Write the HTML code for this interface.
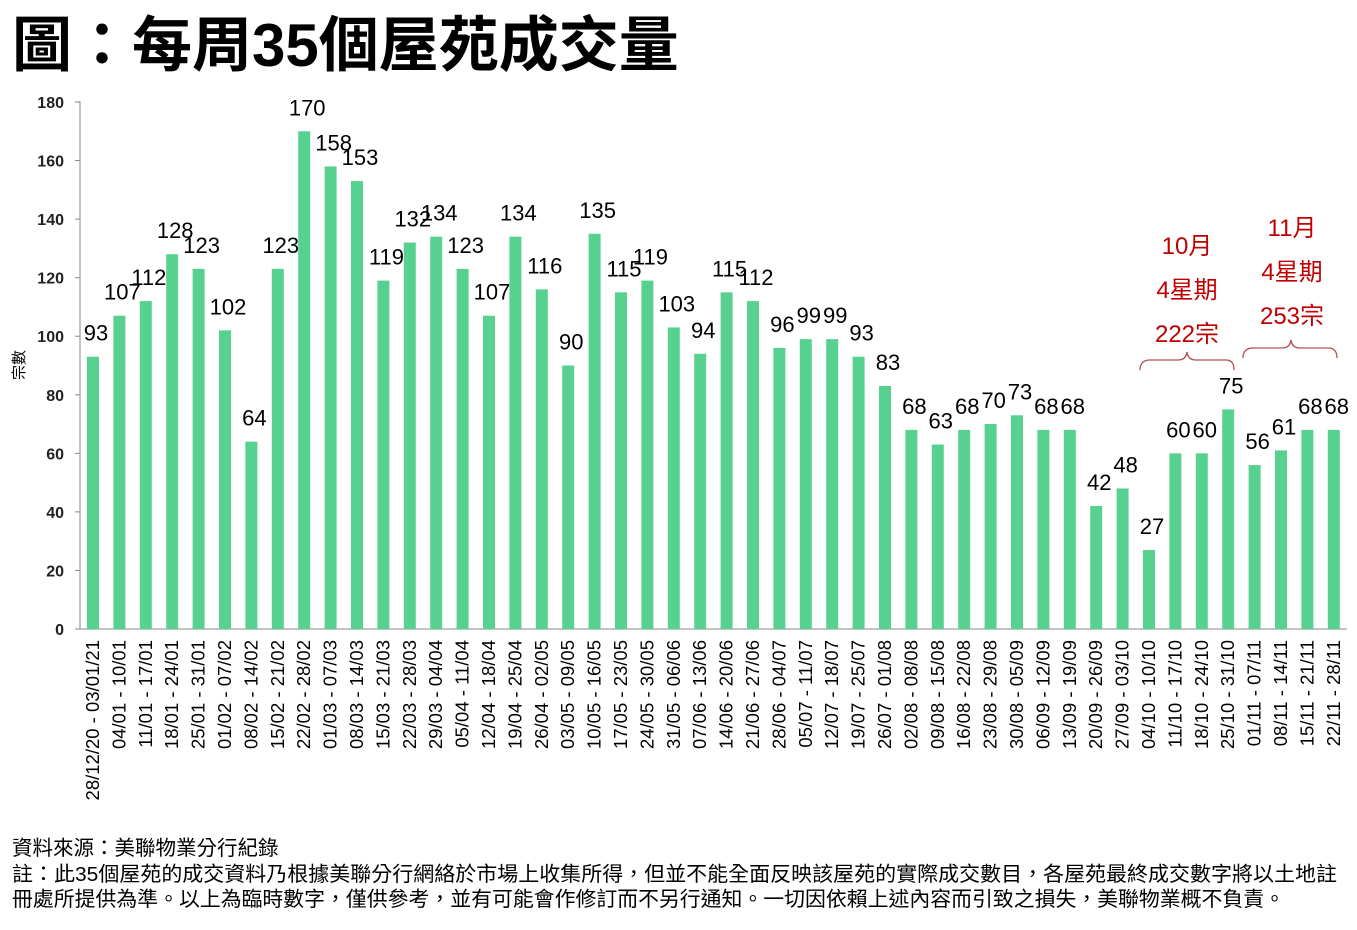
<!DOCTYPE html>
<html><head><meta charset="utf-8"><style>
body{margin:0;background:#fff;}
svg text{font-family:"Liberation Sans","Noto Sans CJK TC",sans-serif;}
</style></head><body>
<svg width="1357" height="925" xmlns="http://www.w3.org/2000/svg">
<text x="12" y="66" font-size="60" font-weight="bold" fill="#000">圖：每周35個屋苑成交量</text>
<g id="axes" stroke="#888" stroke-width="1">
<line x1="80" y1="101" x2="80" y2="629"/>
<line x1="80" y1="629" x2="1347" y2="629"/>
</g>
<g id="yt" font-size="16" font-weight="bold" fill="#222" text-anchor="end"></g>
<text transform="translate(24,365) rotate(-90)" font-size="15" text-anchor="middle">宗數</text>
<g id="bars"></g>
<g fill="#c00000" font-size="24" text-anchor="middle">
<text x="1187" y="254">10月</text><text x="1187" y="298">4星期</text><text x="1187" y="342">222宗</text>
<text x="1292" y="236">11月</text><text x="1292" y="280">4星期</text><text x="1292" y="324">253宗</text>
</g>
<path d="M1140,370 Q1140,360 1150,360 L1178,360 Q1186,360 1187,352 Q1188,360 1196,360 L1226,360 Q1234,360 1234,370" fill="none" stroke="#b05050" stroke-width="1.3"/>
<path d="M1243,358 Q1243,348 1253,348 L1282,348 Q1290,348 1291,340 Q1292,348 1300,348 L1328,348 Q1337,348 1337,358" fill="none" stroke="#b05050" stroke-width="1.3"/>
<text x="12" y="855" font-size="20.5">資料來源：美聯物業分行紀錄</text>
<text x="12" y="881" font-size="20.5" textLength="1325" lengthAdjust="spacingAndGlyphs">註：此35個屋苑的成交資料乃根據美聯分行網絡於市場上收集所得，但並不能全面反映該屋苑的實際成交數目，各屋苑最終成交數字將以土地註</text>
<text x="12" y="906" font-size="20.5" textLength="1273" lengthAdjust="spacingAndGlyphs">冊處所提供為準。以上為臨時數字，僅供參考，並有可能會作修訂而不另行通知。一切因依賴上述內容而引致之損失，美聯物業概不負責。</text>
</svg>
<script>
const v=[93,107,112,128,123,102,64,123,170,158,153,119,132,134,123,107,134,116,90,135,115,119,103,94,115,112,96,99,99,93,83,68,63,68,70,73,68,68,42,48,27,60,60,75,56,61,68,68];
const d=["28/12/20 - 03/01/21","04/01 - 10/01","11/01 - 17/01","18/01 - 24/01","25/01 - 31/01","01/02 - 07/02","08/02 - 14/02","15/02 - 21/02","22/02 - 28/02","01/03 - 07/03","08/03 - 14/03","15/03 - 21/03","22/03 - 28/03","29/03 - 04/04","05/04 - 11/04","12/04 - 18/04","19/04 - 25/04","26/04 - 02/05","03/05 - 09/05","10/05 - 16/05","17/05 - 23/05","24/05 - 30/05","31/05 - 06/06","07/06 - 13/06","14/06 - 20/06","21/06 - 27/06","28/06 - 04/07","05/07 - 11/07","12/07 - 18/07","19/07 - 25/07","26/07 - 01/08","02/08 - 08/08","09/08 - 15/08","16/08 - 22/08","23/08 - 29/08","30/08 - 05/09","06/09 - 12/09","13/09 - 19/09","20/09 - 26/09","27/09 - 03/10","04/10 - 10/10","11/10 - 17/10","18/10 - 24/10","25/10 - 31/10","01/11 - 07/11","08/11 - 14/11","15/11 - 21/11","22/11 - 28/11"];
const ns="http://www.w3.org/2000/svg";
const Y=x=>629-x*527/180;
let yt=document.getElementById('yt'),ax=document.getElementById('axes'),g=document.getElementById('bars');
for(let i=0;i<=180;i+=20){let t=document.createElementNS(ns,'text');t.setAttribute('x',64);t.setAttribute('y',Y(i)+6);t.textContent=i;yt.appendChild(t);
let l=document.createElementNS(ns,'line');l.setAttribute('x1',75);l.setAttribute('x2',80);l.setAttribute('y1',Y(i));l.setAttribute('y2',Y(i));ax.appendChild(l);}
v.forEach((val,i)=>{let cx=93+i*26.4;
let r=document.createElementNS(ns,'rect');r.setAttribute('x',cx-6);r.setAttribute('width',12);r.setAttribute('y',Y(val));r.setAttribute('height',629-Y(val));r.setAttribute('fill','#57d18f');g.appendChild(r);
let t=document.createElementNS(ns,'text');t.setAttribute('x',cx+3);t.setAttribute('y',Y(val)-16);t.setAttribute('font-size',22);t.setAttribute('text-anchor','middle');t.textContent=val;g.appendChild(t);
let x=document.createElementNS(ns,'text');x.setAttribute('transform',`translate(${cx+6},640) rotate(-90)`);x.setAttribute('font-size',18.5);x.setAttribute('text-anchor','end');x.textContent=d[i];g.appendChild(x);});
</script>
</body></html>
